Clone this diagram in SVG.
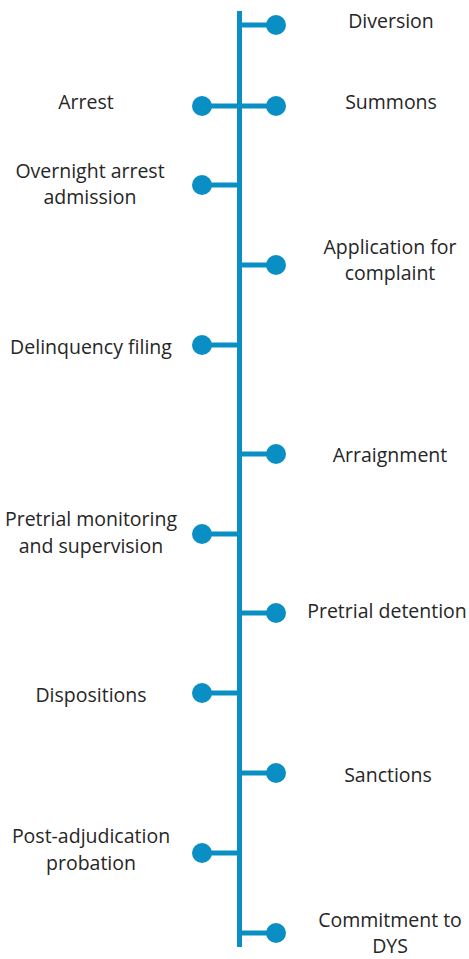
<svg xmlns="http://www.w3.org/2000/svg" width="469" height="959" viewBox="0 0 469 959">
<style>
.ln{stroke:#0a8fc4;stroke-width:5;fill:none}
.dot{fill:#0a8fc4}
text{font-family:"Open Sans","Liberation Sans",sans-serif;font-size:19.5px;fill:#262626;text-anchor:middle}
</style>
<rect width="469" height="959" fill="#fff"/>
<g id="connectors">
<line class="ln" x1="239.5" y1="11" x2="239.5" y2="947"/>
<line class="ln" x1="239.5" y1="25" x2="276" y2="25"/>
<line class="ln" x1="202" y1="106" x2="276" y2="106"/>
<line class="ln" x1="202" y1="185" x2="239.5" y2="185"/>
<line class="ln" x1="239.5" y1="265" x2="276" y2="265"/>
<line class="ln" x1="202" y1="345" x2="239.5" y2="345"/>
<line class="ln" x1="239.5" y1="454" x2="276" y2="454"/>
<line class="ln" x1="202" y1="534" x2="239.5" y2="534"/>
<line class="ln" x1="239.5" y1="613" x2="276" y2="613"/>
<line class="ln" x1="202" y1="693" x2="239.5" y2="693"/>
<line class="ln" x1="239.5" y1="773" x2="276" y2="773"/>
<line class="ln" x1="202" y1="853" x2="239.5" y2="853"/>
<line class="ln" x1="239.5" y1="933" x2="276" y2="933"/>
</g>
<g id="diversion"><circle class="dot" cx="276" cy="25" r="10"/><text x="391" y="28">Diversion</text></g>
<g id="arrest"><circle class="dot" cx="202" cy="106" r="10"/><text x="86" y="109">Arrest</text></g>
<g id="summons"><circle class="dot" cx="276" cy="106" r="10"/><text x="391" y="109">Summons</text></g>
<g id="overnight"><circle class="dot" cx="202" cy="185" r="10"/><text x="90" y="178">Overnight arrest</text><text x="90" y="204">admission</text></g>
<g id="application"><circle class="dot" cx="276" cy="265" r="10"/><text x="390" y="254">Application for</text><text x="390" y="280">complaint</text></g>
<g id="delinquency"><circle class="dot" cx="202" cy="345" r="10"/><text x="91" y="354">Delinquency filing</text></g>
<g id="arraignment"><circle class="dot" cx="276" cy="454" r="10"/><text x="390" y="462">Arraignment</text></g>
<g id="monitoring"><circle class="dot" cx="202" cy="534" r="10"/><text x="91" y="526">Pretrial monitoring</text><text x="91" y="553">and supervision</text></g>
<g id="detention"><circle class="dot" cx="276" cy="613" r="10"/><text x="387" y="618">Pretrial detention</text></g>
<g id="dispositions"><circle class="dot" cx="202" cy="693" r="10"/><text x="91" y="702">Dispositions</text></g>
<g id="sanctions"><circle class="dot" cx="276" cy="773" r="10"/><text x="388" y="782">Sanctions</text></g>
<g id="probation"><circle class="dot" cx="202" cy="853" r="10"/><text x="91" y="843">Post-adjudication</text><text x="91" y="870">probation</text></g>
<g id="commitment"><circle class="dot" cx="276" cy="933" r="10"/><text x="390" y="927">Commitment to</text><text x="390" y="953">DYS</text></g>
</svg>
